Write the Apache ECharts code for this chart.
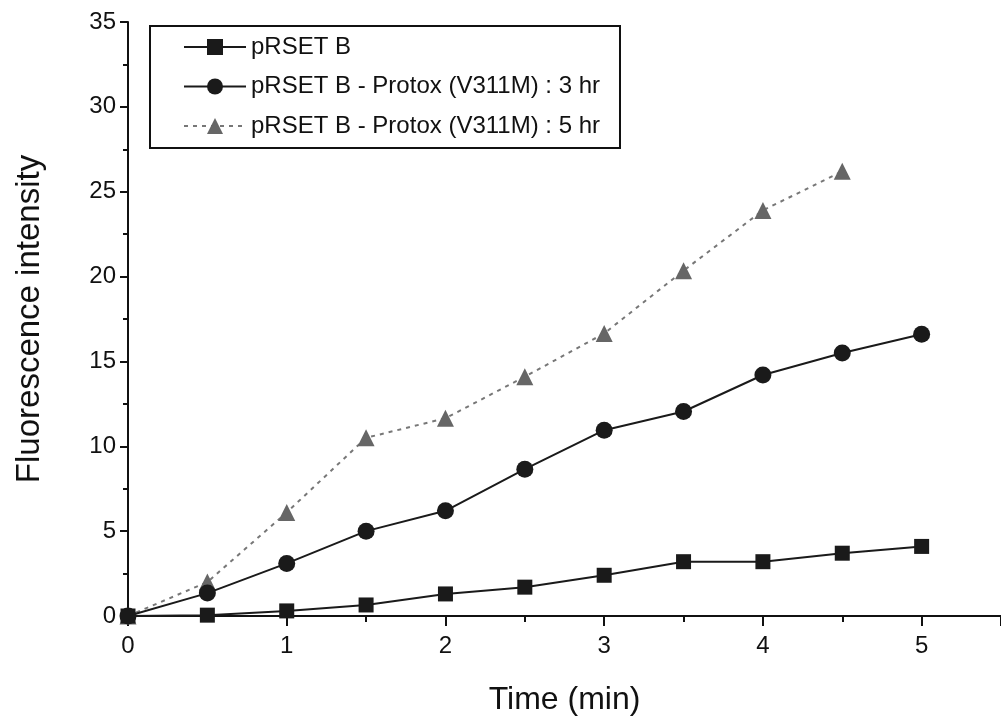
<!DOCTYPE html>
<html>
<head>
<meta charset="utf-8">
<script src="https://cdn.jsdelivr.net/npm/echarts@6/dist/echarts.min.js"></script>
<style>html,body{margin:0;padding:0;background:#fff}#c{width:1001px;height:728px}</style>
</head>
<body>
<div id="c"></div>
<script>
const times = [0, 0.5, 1, 1.5, 2, 2.5, 3, 3.5, 4, 4.5, 5];
const timesTri = [0, 0.5, 1, 1.5, 2, 2.5, 3, 3.5, 4, 4.5];
const seriesNames = ['pRSET B', 'pRSET B - Protox (V311M) : 3 hr', 'pRSET B - Protox (V311M) : 5 hr'];
const pRSET = [0, 0.05, 0.3, 0.65, 1.3, 1.7, 2.4, 3.2, 3.2, 3.7, 4.1];
const protox3 = [0, 1.35, 3.1, 5.0, 6.2, 8.65, 10.95, 12.05, 14.2, 15.5, 16.6];
const protox5 = [0, 2.0, 6.1, 10.5, 11.65, 14.1, 16.65, 20.35, 23.9, 26.2];
const xTicks = [0, 1, 2, 3, 4, 5];

const pair = (xs, ys) => xs.map((x, i) => [x, ys[i]]);
const font = 'Liberation Sans, Arial, sans-serif';

const chart = echarts.init(document.getElementById('c'), null, {renderer: 'canvas'});
chart.setOption({
  backgroundColor: '#fff',
  animation: false,
  grid: {left: 128, top: 22, width: 878, height: 594},
  legend: {
    left: 150, top: 26, orient: 'vertical',
    itemWidth: 62, itemHeight: 20, itemGap: 15.5,
    padding: [9, 20, 10, 33],
    borderColor: '#111', borderWidth: 2,
    textStyle: {fontSize: 24, color: '#111', fontFamily: font},
    data: seriesNames
  },
  xAxis: {
    type: 'value', min: 0, max: 5.5, interval: 1,
    name: 'Time (min)', nameLocation: 'middle', nameGap: 68,
    nameTextStyle: {fontSize: 32, color: '#111', fontFamily: font},
    axisLine: {show: true, onZero: false, lineStyle: {color: '#111', width: 2}},
    axisTick: {show: true, length: 10, lineStyle: {color: '#111', width: 2}},
    minorTick: {show: true, splitNumber: 2, length: 6, lineStyle: {color: '#111', width: 2}},
    splitLine: {show: false},
    axisLabel: {
      fontSize: 24, color: '#111', fontFamily: font, margin: 18,
      showMaxLabel: false,
      formatter: v => xTicks.includes(v) ? String(v) : ''
    }
  },
  yAxis: {
    type: 'value', min: 0, max: 35, interval: 5,
    name: 'Fluorescence intensity', nameLocation: 'middle', nameGap: 82,
    nameTextStyle: {fontSize: 33, color: '#111', fontFamily: font},
    axisLine: {show: true, lineStyle: {color: '#111', width: 2}},
    axisTick: {show: true, length: 8, lineStyle: {color: '#111', width: 2}},
    minorTick: {show: true, splitNumber: 2, length: 5, lineStyle: {color: '#111', width: 2}},
    splitLine: {show: false},
    axisLabel: {fontSize: 24, color: '#111', fontFamily: font, margin: 12}
  },
  series: [
    {
      name: seriesNames[0], type: 'line', data: pair(times, pRSET),
      symbol: 'rect', symbolSize: 15,
      itemStyle: {color: '#1a1a1a'},
      lineStyle: {color: '#1a1a1a', width: 2}, z: 3
    },
    {
      name: seriesNames[1], type: 'line', data: pair(times, protox3),
      symbol: 'circle', symbolSize: 17,
      itemStyle: {color: '#1a1a1a'},
      lineStyle: {color: '#1a1a1a', width: 2}, z: 3
    },
    {
      name: seriesNames[2], type: 'line', data: pair(timesTri, protox5),
      symbol: 'triangle', symbolSize: 17,
      itemStyle: {color: '#666'},
      lineStyle: {color: '#777', width: 2, type: [4, 5]}, z: 2
    }
  ]
});
</script>
</body>
</html>
